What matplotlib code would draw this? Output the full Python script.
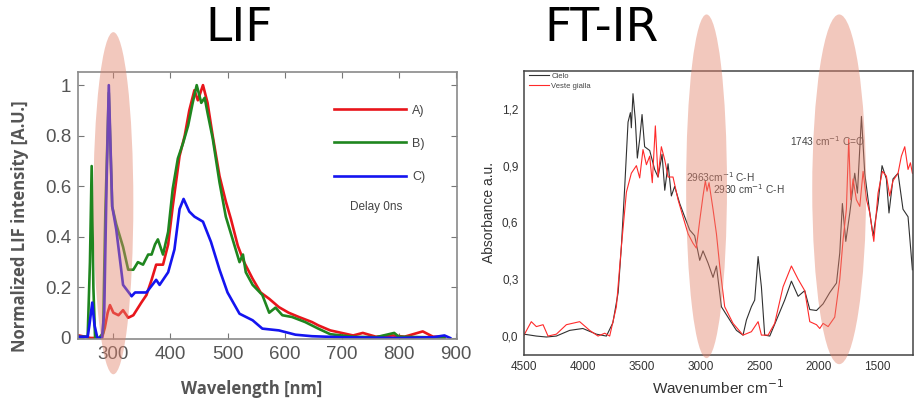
import matplotlib
matplotlib.use("Agg")
import matplotlib.pyplot as plt
from matplotlib.patches import Ellipse

# --- LIF spectra, Delay 0ns ---
lif_x_a = [240, 250, 260, 270, 280, 285, 290, 294, 300, 309, 317, 326, 335, 349, 358, 367, 375, 387,
           396, 404, 416, 425, 433, 442, 448, 457, 465, 474, 486, 497, 506, 518, 529, 544, 558, 573,
           590, 607, 625, 648, 659, 680, 700, 720, 737, 760, 790, 810, 842, 860, 880]
lif_a = [0.01, 0.005, 0.0, 0.0, 0.0, 0.04, 0.10, 0.13, 0.10, 0.09, 0.11, 0.08, 0.09, 0.14, 0.17, 0.23,
         0.29, 0.29, 0.37, 0.52, 0.72, 0.80, 0.90, 0.98, 0.94, 1.0, 0.93, 0.80, 0.64, 0.54, 0.47, 0.365,
         0.30, 0.234, 0.18, 0.155, 0.122, 0.10, 0.083, 0.063, 0.05, 0.03, 0.02, 0.01, 0.02, 0.005, 0.01,
         0.005, 0.026, 0.005, 0.005]

lif_x_b = [240, 255, 259, 262, 265, 268, 275, 282, 286, 292, 298, 305, 317, 326, 335, 343, 352, 361,
           367, 373, 378, 387, 396, 404, 413, 422, 431, 439, 446, 454, 460, 465, 474, 486, 497, 509,
           521, 527, 532, 544, 561, 573, 584, 596, 613, 636, 659, 680, 700, 720, 760, 792, 800, 850, 880]
lif_b = [0.005, 0.005, 0.3, 0.68, 0.2, 0.0, 0.0, 0.02, 0.5, 0.97, 0.52, 0.45, 0.36, 0.27, 0.27, 0.30,
         0.29, 0.33, 0.33, 0.37, 0.39, 0.33, 0.42, 0.59, 0.71, 0.77, 0.84, 0.93, 1.0, 0.93, 0.95, 0.89,
         0.79, 0.615, 0.48, 0.39, 0.30, 0.33, 0.26, 0.21, 0.17, 0.10, 0.12, 0.09, 0.083, 0.063, 0.037,
         0.015, 0.01, 0.005, 0.003, 0.02, 0.005, 0.003, 0.002]

lif_x_c = [240, 255, 258, 263, 267, 272, 280, 284, 288, 292, 298, 305, 317, 332, 338, 358, 375, 381,
           396, 407, 416, 423, 433, 442, 457, 471, 486, 500, 521, 544, 561, 590, 619, 648, 700, 800,
           860, 880, 890]
lif_c = [0.005, 0.005, 0.05, 0.14, 0.05, 0.0, 0.0, 0.1, 0.6, 1.0, 0.52, 0.43, 0.21, 0.165, 0.18, 0.18,
         0.23, 0.21, 0.26, 0.35, 0.51, 0.55, 0.50, 0.48, 0.46, 0.38, 0.27, 0.18, 0.096, 0.07, 0.037,
         0.03, 0.013, 0.007, 0.003, 0.0, 0.003, 0.01, 0.0]

lif_labels = ["A)", "B)", "C)"]
lif_xticks = [300, 400, 500, 600, 700, 800, 900]
lif_yticks = [0, 0.2, 0.4, 0.6, 0.8, 1]
lif_yticklabels = ["0", "0.2", "0.4", "0.6", "0.8", "1"]

# --- FT-IR spectra ---
wn_cielo = [4500, 4395, 4310, 4225, 4112, 4000, 3885, 3800, 3745, 3700, 3673, 3644, 3616, 3596, 3588,
            3574, 3554, 3537, 3517, 3497, 3475, 3432, 3390, 3361, 3327, 3304, 3276, 3248, 3220, 3177,
            3135, 3092, 3050, 3007, 2979, 2936, 2894, 2865, 2823, 2752, 2695, 2639, 2610, 2568, 2540,
            2511, 2483, 2455, 2412, 2355, 2285, 2228, 2171, 2115, 2072, 2015, 1959, 1902, 1845, 1817,
            1795, 1766, 1732, 1690, 1667, 1633, 1605, 1562, 1534, 1492, 1458, 1421, 1399, 1365, 1322,
            1280, 1237, 1200]
abs_cielo = [0.01, 0.0, -0.005, 0.0, 0.03, 0.04, 0.01, 0.0, 0.07, 0.23, 0.47, 0.79, 1.13, 1.18, 1.10,
             1.28, 1.14, 0.94, 1.04, 1.17, 1.00, 0.98, 0.88, 0.84, 0.96, 0.77, 0.91, 0.74, 0.79, 0.70,
             0.63, 0.56, 0.53, 0.40, 0.45, 0.385, 0.31, 0.37, 0.155, 0.085, 0.03, 0.005, 0.085, 0.155,
             0.19, 0.42, 0.26, 0.005, 0.0, 0.085, 0.19, 0.29, 0.21, 0.24, 0.14, 0.135, 0.17, 0.23, 0.28,
             0.44, 0.70, 0.50, 0.65, 0.86, 0.755, 1.16, 0.86, 0.65, 0.53, 0.70, 0.90, 0.83, 0.65, 0.83,
             0.86, 0.67, 0.63, 0.35]

wn_veste = [4500, 4438, 4395, 4338, 4296, 4225, 4140, 4027, 3942, 3871, 3814, 3772, 3715, 3673, 3630,
            3588, 3545, 3517, 3489, 3460, 3432, 3410, 3384, 3361, 3333, 3304, 3276, 3234, 3191, 3149,
            3106, 3064, 3036, 3007, 2979, 2959, 2945, 2928, 2894, 2865, 2837, 2795, 2724, 2639, 2568,
            2511, 2483, 2426, 2370, 2299, 2228, 2171, 2115, 2072, 2015, 1987, 1959, 1916, 1860, 1817,
            1789, 1761, 1741, 1724, 1704, 1676, 1647, 1619, 1590, 1562, 1528, 1492, 1455, 1421, 1393,
            1365, 1322, 1294, 1265, 1237, 1217, 1200]
abs_veste = [0.005, 0.076, 0.05, 0.06, 0.0, 0.01, 0.06, 0.076, 0.03, 0.0, 0.015, 0.0, 0.155, 0.47,
             0.76, 0.86, 0.90, 0.835, 0.985, 0.905, 0.95, 0.81, 1.11, 0.84, 1.00, 0.93, 0.84, 0.84, 0.72,
             0.63, 0.54, 0.49, 0.465, 0.61, 0.74, 0.82, 0.765, 0.81, 0.67, 0.54, 0.37, 0.155, 0.067,
             0.005, 0.023, 0.076, 0.005, 0.005, 0.067, 0.26, 0.37, 0.30, 0.24, 0.076, 0.06, 0.04, 0.067,
             0.05, 0.10, 0.30, 0.51, 0.67, 1.04, 0.72, 0.83, 0.72, 0.685, 0.87, 0.72, 0.65, 0.50, 0.755,
             0.87, 0.845, 0.74, 0.82, 0.86, 0.95, 1.00, 0.88, 0.915, 0.86]

ftir_xticks = [4500, 4000, 3500, 3000, 2500, 2000, 1500]
ftir_yticks = [0.0, 0.3, 0.6, 0.9, 1.2]
ftir_yticklabels = ["0,0", "0,3", "0,6", "0,9", "1,2"]

pink = (0.89, 0.52, 0.43)
gray_txt = "#555555"

fig = plt.figure(figsize=(9.14, 4.04), dpi=100)

# ---------------- LIF ----------------
ax1 = fig.add_axes([0.0853, 0.1609, 0.4147, 0.6609])
ax1.plot(lif_x_a, lif_a, color="#e8151b", lw=1.9, label=lif_labels[0])
ax1.plot(lif_x_b, lif_b, color="#1f861f", lw=1.9, label=lif_labels[1])
ax1.plot(lif_x_c, lif_c, color="#1414f0", lw=1.9, label=lif_labels[2])
ax1.set_xlim(238, 902)
ax1.set_ylim(-0.004, 1.052)
ax1.set_xticks(lif_xticks)
ax1.set_yticks(lif_yticks)
ax1.set_yticklabels(lif_yticklabels)
ax1.tick_params(direction="in", length=4, width=0.8, color="#777777", top=True, right=True,
                labelsize=13.5, labelcolor=gray_txt, pad=5)
for t in ax1.get_xticklabels() + ax1.get_yticklabels():
    t.set_family("Liberation Sans")
for s in ax1.spines.values():
    s.set_color("#8a8a8a")
    s.set_linewidth(1.2)
leg = ax1.legend(loc="upper left", bbox_to_anchor=(0.645, 0.92), frameon=False,
                 handlelength=5.8, handletextpad=0.5, labelspacing=1.7,
                 prop={"family": "Liberation Sans", "size": 9})
for t in leg.get_texts():
    t.set_color("#444444")
ax1.text(0.787, 0.494, "Delay 0ns", transform=ax1.transAxes, ha="center", va="center",
         fontsize=8.5, color="#444444", family="Liberation Sans")
fig.text(0.022, 0.44, "Normalized LIF intensity [A.U.]", rotation=90, ha="center", va="center",
         fontsize=12, fontweight="bold", color=gray_txt, family="Open Sans")
fig.text(0.275, 0.038, "Wavelength [nm]", ha="center", va="center",
         fontsize=12, fontweight="bold", color=gray_txt, family="Open Sans")
ax1.add_patch(Ellipse((300, 0.533), 70, 1.353, facecolor=pink, alpha=0.45, edgecolor="none",
                      clip_on=False, zorder=5))
fig.text(0.2615, 0.93, "LIF", ha="center", va="center", fontsize=34, family="DejaVu Sans")

# ---------------- FT-IR ----------------
ax2 = fig.add_axes([0.5733, 0.1213, 0.4256, 0.703])
ax2.plot(wn_cielo, abs_cielo, color="#303030", lw=0.8, label="Cielo")
ax2.plot(wn_veste, abs_veste, color="#ff2a2a", lw=0.8, label="Veste gialla")
ax2.set_xlim(4500, 1195)
ax2.set_ylim(-0.10, 1.40)
ax2.set_xticks(ftir_xticks)
ax2.set_yticks(ftir_yticks)
ax2.set_yticklabels(ftir_yticklabels)
ax2.tick_params(length=0, labelsize=8.5, labelcolor="#333333", pad=4)
for t in ax2.get_xticklabels() + ax2.get_yticklabels():
    t.set_family("Liberation Sans")
for s in ax2.spines.values():
    s.set_color("#444444")
    s.set_linewidth(1.1)
ax2.set_xlabel("Wavenumber cm$^{-1}$", fontsize=11, color="#333333", family="Liberation Sans",
               labelpad=4)
ax2.set_ylabel("Absorbance a.u.", fontsize=10, color="#333333", family="Liberation Sans",
               labelpad=4)
leg2 = ax2.legend(loc="upper left", bbox_to_anchor=(0.0, 1.01), frameon=False,
                  prop={"family": "Liberation Sans", "size": 5.5}, handlelength=2.7,
                  handletextpad=0.3, labelspacing=0.3, borderaxespad=0.2)
for t in leg2.get_texts():
    t.set_color("#444444")
ann = dict(fontsize=7.3, color="#444444", family="Liberation Sans", va="center", ha="left")
ax2.text(3127, 0.84, "2963cm$^{-1}$ C-H", **ann)
ax2.text(2898, 0.778, "2930 cm$^{-1}$ C-H", **ann)
ax2.text(2237, 1.03, "1743 cm$^{-1}$ C=O", **ann)
ax2.add_patch(Ellipse((2949, 0.791), 347, 1.815, facecolor=pink, alpha=0.45, edgecolor="none",
                      clip_on=False, zorder=5))
ax2.add_patch(Ellipse((1822, 0.775), 458, 1.847, facecolor=pink, alpha=0.45, edgecolor="none",
                      clip_on=False, zorder=5))
fig.text(0.658, 0.93, "FT-IR", ha="center", va="center", fontsize=34, family="DejaVu Sans")

fig.savefig("out.png", dpi=100)
